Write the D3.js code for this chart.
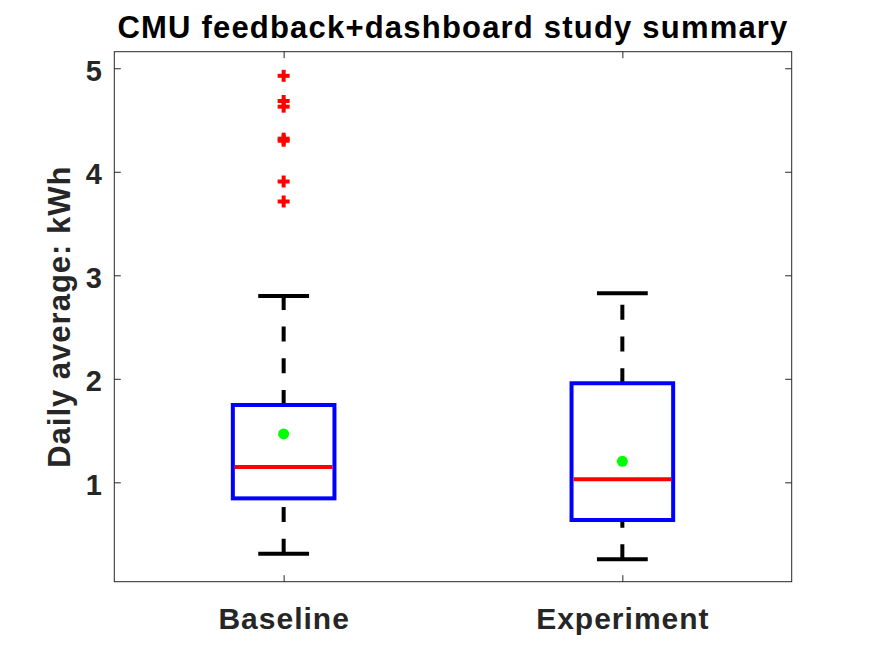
<!DOCTYPE html>
<html>
<head>
    <title>CMU feedback+dashboard study summary</title>
    <script src="https://d3js.org/d3.v7.min.js"></script>
    <style>
        body { margin: 0; background: #fff; overflow: hidden; }
        svg { display: block; }
        text { font-family: 'Liberation Sans', Arial, sans-serif; font-weight: bold; }
        .tick text { fill: #262626; }
        .tick line { stroke: #262626; }
    </style>
</head>
<body>
<svg width="875" height="656"></svg>
<script>
// DATA ========================================================
const groups = ["Baseline", "Experiment"];
const whiskerLow  = [0.31, 0.256];
const q1          = [0.845, 0.636];
const medians     = [1.148, 1.029];
const q3          = [1.747, 1.957];
const whiskerHigh = [2.80, 2.826];
const means       = [1.467, 1.203];
const outliers    = [
    [3.713, 3.906, 4.30, 4.32, 4.629, 4.684, 4.927],
    []
];
const yTicks = [1, 2, 3, 4, 5];

// LAYOUT ======================================================
const svg = d3.select("svg");
const plotLeft = 114.3, plotRight = 791.7, plotTop = 51.7, plotBottom = 581.7;
const ink = "#262626";

const x = d3.scaleLinear().domain([0.5, 2.5]).range([plotLeft, plotRight]);
const y = d3.scaleLinear().domain([0.04, 5.16]).range([plotBottom, plotTop]);

const boxHalf = x(1.15) - x(1);      // box width 0.3
const capHalf = x(1.075) - x(1);     // cap width 0.15

// AXES ========================================================
const yAxis = svg.append("g")
    .attr("transform", `translate(${plotLeft},0)`)
    .call(d3.axisLeft(y).tickValues(yTicks).tickFormat(d3.format("d"))
        .tickSizeInner(-6.5).tickSizeOuter(0).tickPadding(12.5));
yAxis.select(".domain").remove();
yAxis.selectAll("text").attr("font-size", 29).attr("dy", 12);

const yAxisR = svg.append("g")
    .attr("transform", `translate(${plotRight},0)`)
    .call(d3.axisRight(y).tickValues(yTicks).tickSizeInner(-6.5).tickSizeOuter(0).tickFormat(""));
yAxisR.select(".domain").remove();

const xAxis = svg.append("g")
    .attr("transform", `translate(0,${plotBottom})`)
    .call(d3.axisBottom(x).tickValues([1, 2]).tickFormat((d, i) => groups[i])
        .tickSizeInner(-6.5).tickSizeOuter(0).tickPadding(26));
xAxis.select(".domain").remove();
xAxis.selectAll("text").attr("font-size", 30).attr("letter-spacing", 1).attr("dy", "0.71em");

const xAxisT = svg.append("g")
    .attr("transform", `translate(0,${plotTop})`)
    .call(d3.axisTop(x).tickValues([1, 2]).tickSizeInner(-6.5).tickSizeOuter(0).tickFormat(""));
xAxisT.select(".domain").remove();

svg.append("rect")
    .attr("x", plotLeft).attr("y", plotTop)
    .attr("width", plotRight - plotLeft).attr("height", plotBottom - plotTop)
    .attr("fill", "none").attr("stroke", ink).attr("stroke-width", 1);

// BOXES =======================================================
const idx = d3.range(groups.length);
const g = svg.append("g");

// whiskers, drawn from lower value upward so dashes start at the bottom
g.append("g").selectAll("line").data(idx).join("line")
    .attr("x1", i => x(i + 1)).attr("x2", i => x(i + 1))
    .attr("y1", i => y(whiskerLow[i])).attr("y2", i => y(q1[i]))
    .attr("stroke", "#000").attr("stroke-width", 4).attr("stroke-dasharray", "15,16.7");
g.append("g").selectAll("line").data(idx).join("line")
    .attr("x1", i => x(i + 1)).attr("x2", i => x(i + 1))
    .attr("y1", i => y(q3[i])).attr("y2", i => y(whiskerHigh[i]))
    .attr("stroke", "#000").attr("stroke-width", 4).attr("stroke-dasharray", "15,16.7");

// caps
[whiskerLow, whiskerHigh].forEach(arr => {
    g.append("g").selectAll("line").data(idx).join("line")
        .attr("x1", i => x(i + 1) - capHalf).attr("x2", i => x(i + 1) + capHalf)
        .attr("y1", i => y(arr[i])).attr("y2", i => y(arr[i]))
        .attr("stroke", "#000").attr("stroke-width", 4);
});

// box
g.append("g").selectAll("rect").data(idx).join("rect")
    .attr("x", i => x(i + 1) - boxHalf)
    .attr("y", i => y(q3[i]))
    .attr("width", boxHalf * 2)
    .attr("height", i => y(q1[i]) - y(q3[i]))
    .attr("fill", "none").attr("stroke", "#0000ff").attr("stroke-width", 4);

// median
g.append("g").selectAll("line").data(idx).join("line")
    .attr("x1", i => x(i + 1) - boxHalf + 2).attr("x2", i => x(i + 1) + boxHalf - 2)
    .attr("y1", i => y(medians[i])).attr("y2", i => y(medians[i]))
    .attr("stroke", "#ff0000").attr("stroke-width", 4);

// mean
g.append("g").selectAll("circle").data(idx).join("circle")
    .attr("cx", i => x(i + 1)).attr("cy", i => y(means[i]))
    .attr("r", 5.5).attr("fill", "#00ff00");

// outliers as '+'
const outPts = idx.flatMap(i => outliers[i].map(v => ({ i, v })));
const plus = g.append("g").selectAll("g").data(outPts).join("g")
    .attr("transform", d => `translate(${x(d.i + 1)},${y(d.v)})`);
plus.append("line").attr("x1", -6).attr("x2", 6).attr("y1", 0).attr("y2", 0)
    .attr("stroke", "#ff0000").attr("stroke-width", 4);
plus.append("line").attr("x1", 0).attr("x2", 0).attr("y1", -6).attr("y2", 6)
    .attr("stroke", "#ff0000").attr("stroke-width", 4);

// TITLES ======================================================
svg.append("text")
    .attr("x", (plotLeft + plotRight) / 2).attr("y", 37.5)
    .attr("text-anchor", "middle")
    .attr("font-size", 31).attr("letter-spacing", 1.2)
    .attr("fill", "#000")
    .text("CMU feedback+dashboard study summary");

svg.append("text")
    .attr("transform", `translate(70,${(plotTop + plotBottom) / 2}) rotate(-90)`)
    .attr("text-anchor", "middle")
    .attr("font-size", 31).attr("letter-spacing", 1)
    .attr("fill", ink)
    .text("Daily average: kWh");
</script>
</body>
</html>
